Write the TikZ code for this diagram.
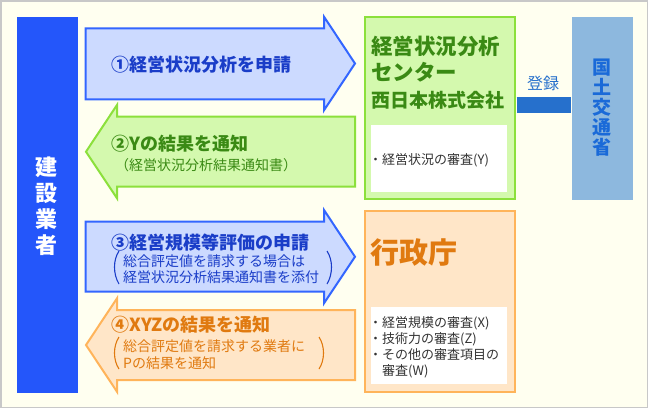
\documentclass[tikz,border=0pt]{standalone}
\usepackage{fontspec}
\setmainfont{Noto Sans CJK JP}
\usetikzlibrary{calc}
\definecolor{bgc}{HTML}{FFFFF0}
\definecolor{framec}{HTML}{C8C8C8}
\definecolor{barblue}{HTML}{2456FA}
\definecolor{ablue}{HTML}{CCDAFF}
\definecolor{ablueline}{HTML}{3366FF}
\definecolor{tblue}{HTML}{1A3DC8}
\definecolor{agreen}{HTML}{D4F9AE}
\definecolor{agreenline}{HTML}{8CE03C}
\definecolor{tgreen}{HTML}{3A8A14}
\definecolor{aorange}{HTML}{FFE6C8}
\definecolor{aorangeline}{HTML}{FFB45A}
\definecolor{torange}{HTML}{E07A10}
\definecolor{steel}{HTML}{8DB8DE}
\definecolor{regblue}{HTML}{2670CC}
\definecolor{tmlit}{HTML}{1A6AD8}
\definecolor{tgray}{HTML}{333333}
\begin{document}
\begin{tikzpicture}[x=1pt,y=-1pt,
  txt/.style={inner sep=0pt,anchor=west},
  ttl/.style={txt,font=\fontsize{18}{20}\selectfont\bfseries},
  sub/.style={txt,font=\fontsize{14}{16}\selectfont},
  small/.style={txt,font=\fontsize{13}{16}\selectfont,text=tgray},
  box/.style={rectangle,anchor=north west,inner sep=0pt,line width=2pt},
  paren/.style={line width=1.1pt}]
\useasboundingbox (0,0) rectangle (648,408);
\fill[bgc] (0,0) rectangle (648,408);
\draw[framec,line width=1.5pt] (0.75,0.75) rectangle (647.25,407.25);
% left bar
\node[box,fill=barblue,minimum width=61pt,minimum height=375.7pt] (bar) at (16,16) {};
\node[inner sep=0pt,text=white,align=center,font=\fontsize{22}{26}\selectfont\bfseries] (barT) at (46.5,206) {建\\設\\業\\者};
% arrows
\draw[ablueline,fill=ablue,line width=2pt,line join=miter] (85.7,28.3) -- (324,28.3) -- (324,16.7) -- (355,63.5) -- (324,110.3) -- (324,99.3) -- (85.7,99.3) -- cycle;
\draw[agreenline,fill=agreen,line width=2pt,line join=miter] (355,116.7) -- (117,116.7) -- (117,105) -- (86,151.7) -- (117,198.3) -- (117,186.7) -- (355,186.7) -- cycle;
\draw[ablueline,fill=ablue,line width=2pt,line join=miter] (85.7,221.7) -- (324,221.7) -- (324,210) -- (355,256.7) -- (324,303.3) -- (324,291.7) -- (85.7,291.7) -- cycle;
\draw[aorangeline,fill=aorange,line width=2pt,line join=miter] (355,310) -- (117,310) -- (117,298.3) -- (86,345) -- (117,391.7) -- (117,380) -- (355,380) -- cycle;
% arrow texts
\node[ttl,text=tblue] (a1) at (111,65) {①経営状況分析を申請};
\node[ttl,text=tgreen] (a2) at (111,144) {②Yの結果を通知};
\node[txt,text=tgreen,font=\fontsize{14}{16}\selectfont] (a2s) at (115,165) {（経営状況分析結果通知書）};
\node[ttl,text=tblue] (a3) at (111,242.7) {③経営規模等評価の申請};
\node[sub,text=tblue] (a3s1) at (123,261) {総合評定値を請求する場合は};
\node[sub,text=tblue] (a3s2) at (123,277.5) {経営状況分析結果通知書を添付};
\draw[paren,tblue] (119,251) .. controls (113,260) and (113,274) .. (119,284);
\draw[paren,tblue] (327,251) .. controls (333,260) and (333,274) .. (327,284);
\node[ttl,text=torange] (a4) at (111,325) {④XYZの結果を通知};
\node[sub,text=torange] (a4s1) at (123,346.7) {総合評定値を請求する業者に};
\node[sub,text=torange] (a4s2) at (123,363.2) {Pの結果を通知};
\draw[paren,torange] (119,337) .. controls (113,346) and (113,360) .. (119,369);
\draw[paren,torange] (319,337) .. controls (325,346) and (325,360) .. (319,369);
% center green box
\node[box,draw=agreenline,fill=agreen,minimum width=149.4pt,minimum height=182.3pt] (center) at (364.3,16) {};
\node[txt,text=tgreen,font=\fontsize{21.5}{24}\selectfont\bfseries] (ct1) at (371,46.7) {経営状況分析};
\node[txt,text=tgreen,font=\fontsize{21.5}{24}\selectfont\bfseries] (ct2) at (371,71.7) {センター};
\node[txt,text=tgreen,font=\fontsize{19}{22}\selectfont\bfseries] (ct3) at (371,100) {西日本株式会社};
\node[box,fill=white,line width=0pt,minimum width=135.7pt,minimum height=66.7pt] (cwhite) at (371,125) {};
\node[small] (cw1) at (369,160) {・経営状況の審査(Y)};
% orange box
\node[box,draw=aorangeline,fill=aorange,minimum width=149.4pt,minimum height=181pt] (gyosei) at (364.3,210) {};
\node[txt,text=torange,font=\fontsize{29}{32}\selectfont\bfseries] (gt) at (370,253) {行政庁};
\node[box,fill=white,line width=0pt,minimum width=135.7pt,minimum height=77pt] (gwhite) at (371,307.3) {};
\node[small,align=left] (gw1) at (369,347.5) {・経営規模の審査(X)\\・技術力の審査(Z)\\・その他の審査項目の\\　審査(W)};
% MLIT box
\node[box,fill=steel,minimum width=61.3pt,minimum height=183pt] (mlit) at (571,16) {};
\node[inner sep=0pt,text=tmlit,align=center,font=\fontsize{19}{20}\selectfont\bfseries] (mlitT) at (601.7,107.5) {国\\土\\交\\通\\省};
% registration connector
\coordinate (regy) at (0,104.7);
\draw[regblue,line width=16pt] ([xshift=1pt]center.east |- regy) -- (mlit.west |- regy);
\node[inner sep=0pt,text=regblue,font=\fontsize{16}{18}\selectfont] (reg) at (543,83) {登録};
\end{tikzpicture}
\end{document}
